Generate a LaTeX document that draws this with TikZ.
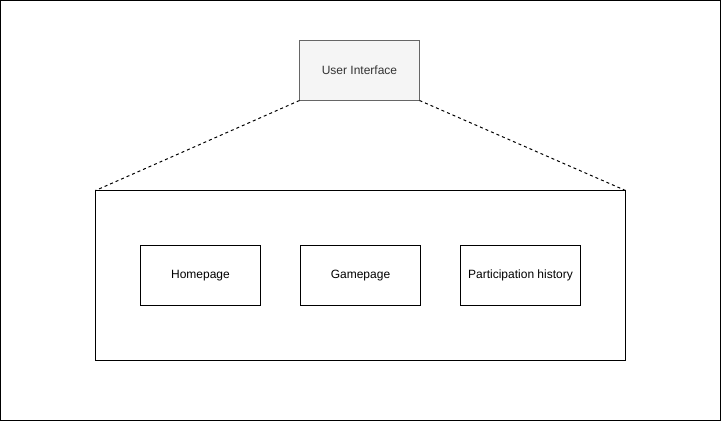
\documentclass[tikz,border=0pt]{standalone}
\usepackage{fontspec}
\setmainfont{Liberation Sans}
\definecolor{uifill}{HTML}{F5F5F5}
\definecolor{uidraw}{HTML}{666666}
\definecolor{uitext}{HTML}{333333}
\begin{document}
\begin{tikzpicture}[x=0.75pt, y=-0.75pt, font=\fontsize{9pt}{11pt}\selectfont, every node/.style={minimum width=90pt, minimum height=45pt, outer sep=0pt, anchor = west, inner sep=0pt}, line join=miter, line width=0.75pt]
        \useasboundingbox (0,0) rectangle (721,421);
        \draw (0.5,0.5) rectangle (720.5,420.5);
        \node[draw=uidraw, fill=uifill, text=uitext] (ui) at (299.5, 70.5) {User Interface};
        \node[draw, minimum width=397.5pt, minimum height=127.5pt] (pages) at (95.5, 275.5) {};
        \node[draw] (home) at (140.5, 275.5) {Homepage};
        \node[draw] (game) at (300.5, 275.5) {Gamepage};
        \node[draw] (history) at (460.5, 275.5) {Participation history};
        \draw[dash pattern=on 2.25pt off 2.25pt] (ui.south west) -- (pages.north west);
        \draw[dash pattern=on 2.25pt off 2.25pt] (ui.south east) -- (pages.north east);
    \end{tikzpicture}
\end{document}
